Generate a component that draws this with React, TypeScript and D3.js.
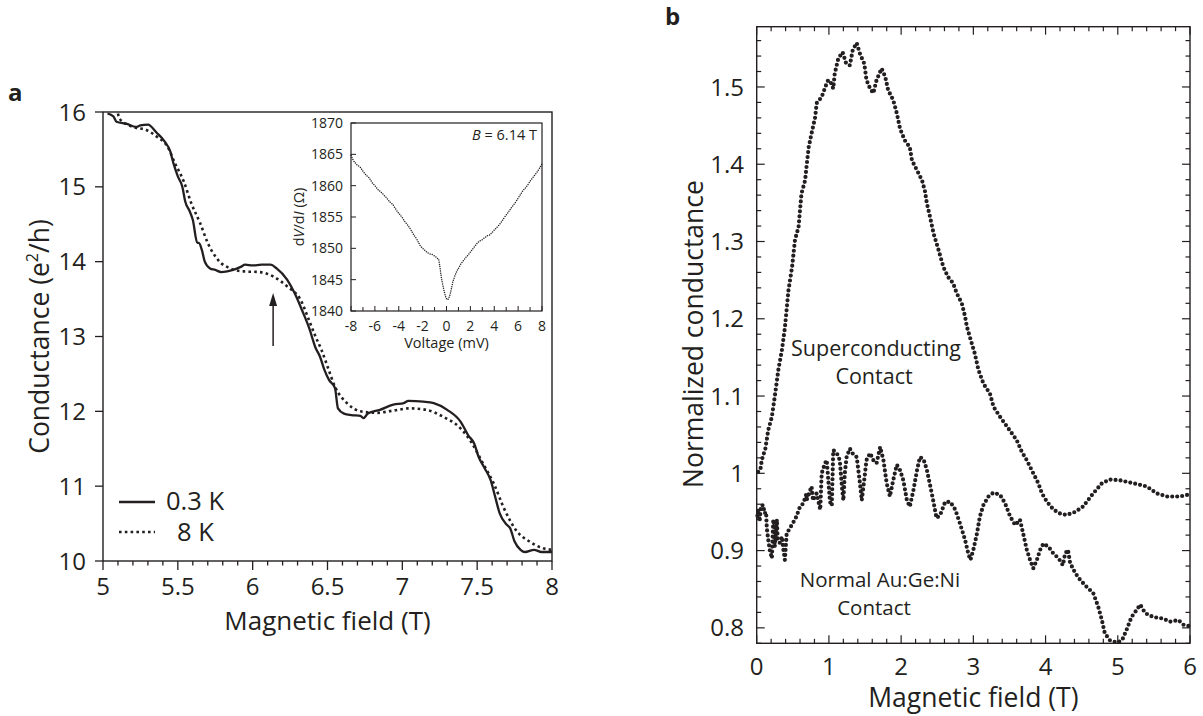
import React from 'react';
import * as d3 from 'd3';

const FONT = "'Open Sans', 'Noto Sans', sans-serif";

// ---------- Panel a data ----------
const fieldTicksA = [5, 5.5, 6, 6.5, 7, 7.5, 8];
const condTicksA = [10, 11, 12, 13, 14, 15, 16];
const legendLabelsA = ['0.3 K', '8 K'];

// 0.3 K (solid) : [field T, conductance e^2/h]
const curve03K: [number, number][] = [
  [5.03, 15.98], [5.07, 15.94], [5.09, 15.87], [5.16, 15.84], [5.22, 15.8], [5.25, 15.82],
  [5.3, 15.83], [5.36, 15.72], [5.41, 15.61], [5.45, 15.47], [5.47, 15.32], [5.5, 15.14],
  [5.53, 15.0], [5.55, 14.8], [5.58, 14.67], [5.6, 14.56], [5.63, 14.25], [5.64, 14.25],
  [5.66, 14.16], [5.68, 14.0], [5.715, 13.91], [5.75, 13.89], [5.79, 13.86], [5.83, 13.87],
  [5.87, 13.89], [5.92, 13.93], [5.95, 13.96], [6.0, 13.95], [6.06, 13.96], [6.12, 13.96],
  [6.16, 13.91], [6.23, 13.76], [6.28, 13.58], [6.33, 13.35], [6.38, 13.1], [6.42, 12.85],
  [6.45, 12.73], [6.48, 12.55], [6.51, 12.42], [6.55, 12.31], [6.57, 12.04], [6.61, 11.97],
  [6.66, 11.95], [6.72, 11.94], [6.74, 11.91], [6.77, 11.97], [6.85, 12.02], [6.94, 12.09],
  [7.01, 12.11], [7.04, 12.14], [7.14, 12.13], [7.21, 12.11], [7.3, 12.02], [7.39, 11.86],
  [7.44, 11.68], [7.48, 11.57], [7.51, 11.39], [7.55, 11.24], [7.59, 11.08], [7.62, 10.86],
  [7.65, 10.64], [7.7, 10.48], [7.72, 10.44], [7.75, 10.26], [7.79, 10.15], [7.82, 10.12],
  [7.88, 10.15], [7.93, 10.12], [8.0, 10.12],
];

// 8 K (dotted)
const curve8K: [number, number][] = [
  [5.1, 15.98], [5.11, 15.91], [5.2, 15.8], [5.29, 15.76], [5.36, 15.67], [5.43, 15.54],
  [5.48, 15.32], [5.54, 15.07], [5.59, 14.78], [5.65, 14.51], [5.7, 14.25], [5.77, 14.02],
  [5.85, 13.91], [5.94, 13.87], [6.05, 13.86], [6.14, 13.8], [6.23, 13.67], [6.32, 13.49],
  [6.38, 13.2], [6.42, 13.0], [6.46, 12.82], [6.5, 12.6], [6.55, 12.33], [6.63, 12.11],
  [6.72, 12.0], [6.83, 11.98], [6.94, 12.01], [7.05, 12.04], [7.16, 12.02], [7.27, 11.93],
  [7.39, 11.77], [7.46, 11.59], [7.54, 11.3], [7.61, 11.04], [7.68, 10.7], [7.76, 10.41],
  [7.85, 10.26], [7.94, 10.17], [8.0, 10.15],
];

// Inset: dV/dI vs voltage at B = 6.14 T
const insetVoltageTicks = [-8, -6, -4, -2, 0, 2, 4, 6, 8];
const insetResTicks = [1840, 1845, 1850, 1855, 1860, 1865, 1870];
const insetTrace: [number, number][] = [
  [-8.0, 1864.8], [-7.8, 1864.0], [-7.5, 1863.3], [-7.2, 1862.9], [-7.0, 1862.3], [-6.7, 1861.6],
  [-6.5, 1861.3], [-6.2, 1860.4], [-6.0, 1860.0], [-5.7, 1859.3], [-5.5, 1859.0], [-5.2, 1858.4],
  [-5.0, 1858.0], [-4.7, 1857.3], [-4.5, 1857.0], [-4.2, 1856.1], [-4.0, 1855.6], [-3.7, 1854.9],
  [-3.5, 1854.3], [-3.2, 1853.6], [-3.0, 1853.0], [-2.7, 1852.0], [-2.5, 1851.5], [-2.2, 1850.4],
  [-2.0, 1850.0], [-1.7, 1849.5], [-1.5, 1849.2], [-1.2, 1849.0], [-1.0, 1848.8], [-0.8, 1848.5],
  [-0.65, 1848.2], [-0.55, 1847.0], [-0.45, 1845.6], [-0.35, 1844.5], [-0.25, 1843.6],
  [-0.15, 1842.8], [-0.05, 1842.1], [0.05, 1841.8], [0.15, 1841.9], [0.25, 1842.3],
  [0.35, 1843.0], [0.45, 1843.9], [0.55, 1844.8], [0.7, 1845.6], [0.85, 1846.3], [1.0, 1846.8],
  [1.2, 1847.5], [1.4, 1848.0], [1.6, 1848.5], [1.8, 1848.9], [2.0, 1849.4], [2.2, 1849.9],
  [2.4, 1850.4], [2.6, 1850.9], [2.8, 1851.2], [3.0, 1851.4], [3.2, 1851.7], [3.4, 1852.0],
  [3.6, 1852.1], [3.8, 1852.5], [4.0, 1852.9], [4.2, 1853.3], [4.4, 1853.7], [4.6, 1854.2],
  [4.8, 1854.8], [5.0, 1855.3], [5.2, 1855.8], [5.4, 1856.4], [5.6, 1856.9], [5.8, 1857.4],
  [6.0, 1858.0], [6.2, 1858.6], [6.4, 1859.2], [6.6, 1859.6], [6.8, 1860.1], [7.0, 1860.7],
  [7.2, 1861.2], [7.4, 1861.7], [7.6, 1862.2], [7.8, 1862.8], [8.0, 1863.5],
];

// ---------- Panel b data ----------
const fieldTicksB = [0, 1, 2, 3, 4, 5, 6];
const normTicksB = [0.8, 0.9, 1, 1.1, 1.2, 1.3, 1.4, 1.5];

const superconducting: [number, number][] = [
  [0.02, 1.002], [0.05, 1.004], [0.07, 1.017], [0.12, 1.032], [0.16, 1.056], [0.21, 1.073],
  [0.25, 1.099], [0.3, 1.134], [0.35, 1.16], [0.39, 1.188], [0.44, 1.237], [0.49, 1.267],
  [0.53, 1.302], [0.58, 1.319], [0.6, 1.341], [0.62, 1.362], [0.67, 1.379], [0.69, 1.397],
  [0.72, 1.422], [0.76, 1.44], [0.81, 1.461], [0.83, 1.479], [0.9, 1.487], [0.95, 1.5],
  [0.99, 1.509], [1.03, 1.505], [1.06, 1.498], [1.08, 1.517], [1.13, 1.537], [1.19, 1.545],
  [1.24, 1.53], [1.29, 1.528], [1.33, 1.548], [1.385, 1.557], [1.43, 1.543], [1.49, 1.53],
  [1.52, 1.509], [1.57, 1.498], [1.615, 1.492], [1.66, 1.509], [1.73, 1.524], [1.78, 1.513],
  [1.82, 1.496], [1.89, 1.483], [1.94, 1.466], [1.985, 1.446], [2.05, 1.431], [2.12, 1.422],
  [2.15, 1.405], [2.22, 1.392], [2.29, 1.379], [2.33, 1.365], [2.355, 1.35], [2.4, 1.332],
  [2.45, 1.31], [2.515, 1.29], [2.585, 1.267], [2.65, 1.254], [2.72, 1.246], [2.77, 1.233],
  [2.84, 1.22], [2.885, 1.203], [2.91, 1.19], [2.95, 1.177], [3.02, 1.155], [3.07, 1.134],
  [3.14, 1.116], [3.23, 1.103], [3.28, 1.086], [3.37, 1.073], [3.485, 1.058], [3.6, 1.043],
  [3.67, 1.028], [3.74, 1.017], [3.83, 1.0], [3.9, 0.987], [3.95, 0.974], [4.02, 0.963],
  [4.11, 0.953], [4.2, 0.948], [4.29, 0.946], [4.41, 0.95], [4.52, 0.957], [4.66, 0.974],
  [4.78, 0.987], [4.89, 0.992], [5.03, 0.991], [5.22, 0.987], [5.4, 0.983], [5.54, 0.974],
  [5.68, 0.97], [5.86, 0.97], [5.96, 0.972], [6.0, 0.97],
];

const normalContact: [number, number][] = [
  [0.01, 0.945], [0.02, 0.953], [0.04, 0.938], [0.06, 0.958], [0.09, 0.959], [0.11, 0.948],
  [0.13, 0.95], [0.14, 0.929], [0.16, 0.914], [0.18, 0.901], [0.21, 0.89], [0.23, 0.94],
  [0.25, 0.93], [0.25, 0.905], [0.28, 0.94], [0.29, 0.914], [0.32, 0.91], [0.35, 0.918],
  [0.37, 0.901], [0.39, 0.888], [0.415, 0.922], [0.46, 0.929], [0.51, 0.937], [0.55, 0.944],
  [0.6, 0.957], [0.645, 0.961], [0.69, 0.974], [0.69, 0.965], [0.76, 0.983], [0.78, 0.965],
  [0.83, 0.974], [0.88, 0.953], [0.9, 1.0], [0.945, 1.013], [0.97, 1.017], [1.015, 0.963],
  [1.04, 0.958], [1.06, 1.03], [1.11, 1.026], [1.15, 1.017], [1.18, 0.983], [1.2, 0.965],
  [1.22, 1.0], [1.245, 1.021], [1.29, 1.032], [1.34, 1.024], [1.385, 1.021], [1.43, 0.987],
  [1.455, 0.965], [1.5, 1.0], [1.52, 1.017], [1.57, 1.026], [1.615, 1.017], [1.66, 1.013],
  [1.71, 1.034], [1.755, 1.017], [1.8, 0.987], [1.845, 0.97], [1.89, 0.991], [1.94, 1.011],
  [1.985, 1.004], [2.03, 0.991], [2.08, 0.965], [2.12, 0.957], [2.17, 0.978], [2.22, 1.004],
  [2.26, 1.021], [2.31, 1.018], [2.355, 1.005], [2.4, 0.985], [2.45, 0.962], [2.49, 0.942],
  [2.54, 0.946], [2.61, 0.963], [2.68, 0.963], [2.75, 0.953], [2.815, 0.935], [2.885, 0.914],
  [2.93, 0.896], [2.96, 0.888], [3.0, 0.901], [3.05, 0.922], [3.09, 0.944], [3.14, 0.959],
  [3.21, 0.97], [3.28, 0.975], [3.37, 0.972], [3.44, 0.961], [3.51, 0.944], [3.58, 0.933],
  [3.645, 0.94], [3.69, 0.922], [3.74, 0.901], [3.785, 0.888], [3.83, 0.877], [3.88, 0.888],
  [3.925, 0.901], [3.97, 0.909], [4.04, 0.905], [4.11, 0.896], [4.18, 0.89], [4.24, 0.881],
  [4.27, 0.896], [4.31, 0.901], [4.34, 0.884], [4.41, 0.871], [4.48, 0.862], [4.57, 0.853],
  [4.66, 0.845], [4.73, 0.827], [4.78, 0.81], [4.82, 0.793], [4.89, 0.784], [4.99, 0.781],
  [5.06, 0.784], [5.12, 0.797], [5.19, 0.814], [5.26, 0.823], [5.31, 0.83], [5.38, 0.819],
  [5.49, 0.814], [5.63, 0.812], [5.72, 0.808], [5.84, 0.81], [5.91, 0.804], [6.0, 0.802],
];

const INK = '#231f20';

export default function App() {
  // Panel a scales
  const xA = d3.scaleLinear().domain([5, 8]).range([103, 552]);
  const yA = d3.scaleLinear().domain([10, 16]).range([561, 112]);
  const lineA = d3.line<[number, number]>().x(d => xA(d[0])).y(d => yA(d[1])).curve(d3.curveMonotoneX);
  const minorA = d3.range(50, 81).map(v => v / 10);

  // Inset scales
  const xI = d3.scaleLinear().domain([-8, 8]).range([351, 542]);
  const yI = d3.scaleLinear().domain([1840, 1870]).range([311, 123]);
  const lineI = d3.line<[number, number]>().x(d => xI(d[0])).y(d => yI(d[1]));
  const minorI = d3.range(-8, 9, 1);

  // Panel b scales
  const xB = d3.scaleLinear().domain([0, 6]).range([756.7, 1190]);
  const yB = d3.scaleLinear().domain([0.78, 1.578]).range([643.3, 26.7]);
  const lineB = d3.line<[number, number]>().x(d => xB(d[0])).y(d => yB(d[1]));
  const minorXB = d3.range(0, 31).map(v => v / 5);
  const minorYB = d3.range(39, 79).map(v => v / 50);

  const [x0, x1] = xB.range();
  const [yb0, yb1] = yB.range();

  return (
    <svg width={1203} height={716} style={{ position: 'absolute', left: 0, top: 0, background: '#fff' }}
      fontFamily={FONT} fill={INK}>
      {/* ================= Panel a ================= */}
      <text x={8} y={101} fontSize={24} fontWeight={700}>a</text>
      <rect x={xA(5)} y={yA(16)} width={xA(8) - xA(5)} height={yA(10) - yA(16)} fill="none" stroke={INK} strokeWidth={1.4} />
      {minorA.map(v => {
        const major = Math.abs(v * 2 - Math.round(v * 2)) < 1e-6;
        return <line key={'ma' + v} x1={xA(v)} x2={xA(v)} y1={yA(10)} y2={yA(10) + (major ? 9 : 4.5)} stroke={INK} strokeWidth={1.3} />;
      })}
      {fieldTicksA.map(v => (
        <text key={'xa' + v} x={xA(v)} y={595} fontSize={24} textAnchor="middle">{v}</text>
      ))}
      {condTicksA.map(v => (
        <g key={'ya' + v}>
          <line x1={xA(5) - 8} x2={xA(5)} y1={yA(v)} y2={yA(v)} stroke={INK} strokeWidth={1.3} />
          <text x={86} y={yA(v)} dy="0.36em" fontSize={24} textAnchor="end">{v}</text>
        </g>
      ))}
      <text x={(xA(5) + xA(8)) / 2} y={630} fontSize={26} textAnchor="middle">Magnetic field (T)</text>
      <text transform={`translate(49,${(yA(10) + yA(16)) / 2}) rotate(-90)`} fontSize={26.5} textAnchor="middle">
        Conductance (e<tspan fontSize={16} dy={-11}>2</tspan><tspan dy={11}>/h)</tspan>
      </text>

      <path d={lineA(curve8K) || ''} fill="none" stroke={INK} strokeWidth={2.6} strokeDasharray="2.6 3.2" />
      <path d={lineA(curve03K) || ''} fill="none" stroke={INK} strokeWidth={2.3} />

      {/* arrow */}
      <line x1={xA(6.14) - 0.5} x2={xA(6.14) - 0.5} y1={346} y2={300} stroke={INK} strokeWidth={1.5} />
      <path d={`M${xA(6.14) - 0.5},293 L${xA(6.14) - 4.5},306 L${xA(6.14) + 3.5},306 Z`} fill={INK} />

      {/* legend */}
      <line x1={119} x2={155} y1={502} y2={502} stroke={INK} strokeWidth={2.3} />
      <text x={166} y={510} fontSize={25.5}>{legendLabelsA[0]}</text>
      <line x1={119} x2={155} y1={532} y2={532} stroke={INK} strokeWidth={2.6} strokeDasharray="2.6 3.2" />
      <text x={177} y={541} fontSize={25.5}>{legendLabelsA[1]}</text>

      {/* inset */}
      <rect x={xI(-8)} y={yI(1870)} width={xI(8) - xI(-8)} height={yI(1840) - yI(1870)} fill="#fff" stroke={INK} strokeWidth={1.2} />
      {minorI.map(v => (
        <line key={'mi' + v} x1={xI(v)} x2={xI(v)} y1={yI(1840)} y2={yI(1840) - (v % 2 === 0 ? 5 : 4)} stroke={INK} strokeWidth={1} />
      ))}
      {insetVoltageTicks.map(v => (
        <text key={'xi' + v} x={xI(v)} y={331} fontSize={14} textAnchor="middle">{v}</text>
      ))}
      {insetResTicks.map(v => (
        <g key={'yi' + v}>
          <line x1={xI(-8)} x2={xI(-8) + 5} y1={yI(v)} y2={yI(v)} stroke={INK} strokeWidth={1} />
          <text x={343} y={yI(v)} dy="0.36em" fontSize={14} textAnchor="end">{v}</text>
        </g>
      ))}
      <text x={(xI(-8) + xI(8)) / 2} y={348} fontSize={14.5} textAnchor="middle">Voltage (mV)</text>
      <text transform={`translate(304,${(yI(1840) + yI(1870)) / 2}) rotate(-90)`} fontSize={14.5} textAnchor="middle">
        d<tspan fontStyle="italic">V</tspan>/d<tspan fontStyle="italic">I</tspan> (Ω)
      </text>
      <text x={537} y={140} fontSize={14.5} textAnchor="end">
        <tspan fontStyle="italic">B</tspan> = 6.14 T
      </text>
      <path d={lineI(insetTrace) || ''} fill="none" stroke={INK} strokeWidth={1.5} strokeLinecap="round" strokeDasharray="0 2.2" />

      {/* ================= Panel b ================= */}
      <text x={665} y={25} fontSize={24} fontWeight={700}>b</text>
      <rect x={x0} y={yb1} width={x1 - x0} height={yb0 - yb1} fill="none" stroke={INK} strokeWidth={1.4} />
      {minorXB.map(v => {
        const major = Math.abs(v - Math.round(v)) < 1e-6;
        const len = major ? 8 : 4.5;
        return (
          <g key={'mxb' + v}>
            <line x1={xB(v)} x2={xB(v)} y1={yb0} y2={yb0 - len} stroke={INK} strokeWidth={1.2} />
            <line x1={xB(v)} x2={xB(v)} y1={yb1} y2={yb1 + len} stroke={INK} strokeWidth={1.2} />
          </g>
        );
      })}
      {minorYB.map(v => {
        const major = Math.abs(v * 10 - Math.round(v * 10)) < 1e-6;
        const len = major ? 8 : 4.5;
        return (
          <g key={'myb' + v}>
            <line x1={x0} x2={x0 + len} y1={yB(v)} y2={yB(v)} stroke={INK} strokeWidth={1.2} />
            <line x1={x1} x2={x1 - len} y1={yB(v)} y2={yB(v)} stroke={INK} strokeWidth={1.2} />
          </g>
        );
      })}
      {fieldTicksB.map(v => (
        <text key={'xb' + v} x={xB(v)} y={675} fontSize={24} textAnchor="middle">{v}</text>
      ))}
      {normTicksB.map(v => (
        <text key={'yb' + v} x={744} y={yB(v)} dy="0.36em" fontSize={24} textAnchor="end">{v}</text>
      ))}
      <text x={(x0 + x1) / 2} y={707} fontSize={26.5} textAnchor="middle">Magnetic field (T)</text>
      <text transform={`translate(703,334) rotate(-90)`} fontSize={26.5} textAnchor="middle">Normalized conductance</text>

      <path d={lineB(superconducting) || ''} fill="none" stroke={INK} strokeWidth={4.2} strokeLinecap="round" strokeDasharray="0 5" />
      <path d={lineB(normalContact) || ''} fill="none" stroke={INK} strokeWidth={4.2} strokeLinecap="round" strokeDasharray="0 5" />

      <text x={876} y={356} fontSize={21.5} textAnchor="middle">Superconducting</text>
      <text x={874} y={384} fontSize={21.5} textAnchor="middle">Contact</text>
      <text x={880} y={587} fontSize={20.5} textAnchor="middle">Normal Au:Ge:Ni</text>
      <text x={874} y={615} fontSize={20.5} textAnchor="middle">Contact</text>
    </svg>
  );
}
